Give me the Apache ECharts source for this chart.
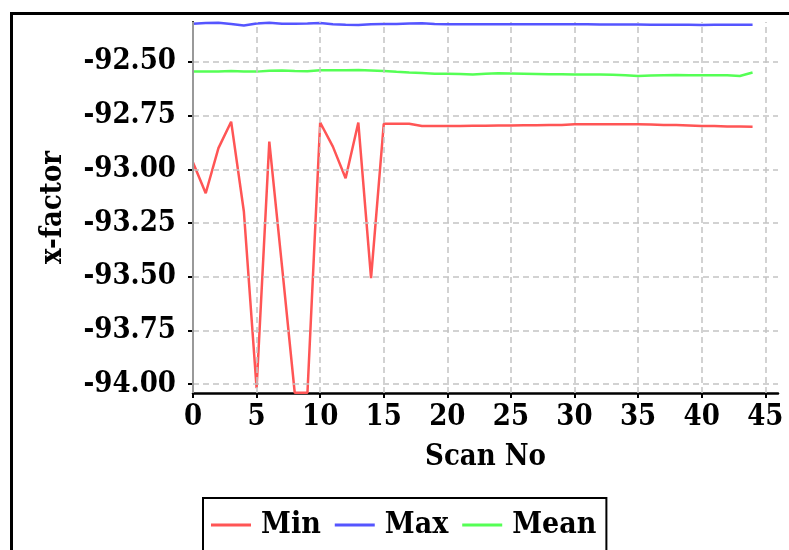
<!DOCTYPE html>
<html>
<head>
<meta charset="utf-8">
<script src="https://cdn.jsdelivr.net/npm/echarts@6/dist/echarts.min.js"></script>
<style>html,body{margin:0;padding:0;background:#fff}#c{width:789px;height:550px}</style>
</head>
<body>
<div id="c"></div>
<script>
const scanNo = [0,1,2,3,4,5,6,7,8,9,10,11,12,13,14,15,16,17,18,19,20,21,22,23,24,25,26,27,28,29,30,31,32,33,34,35,36,37,38,39,40,41,42,43,44];
const minVals = [-92.968,-93.111,-92.901,-92.778,-93.196,-94.018,-92.871,-93.452,-94.04,-94.04,-92.782,-92.894,-93.041,-92.782,-93.506,-92.788,-92.788,-92.788,-92.798,-92.798,-92.798,-92.798,-92.797,-92.797,-92.796,-92.796,-92.795,-92.795,-92.794,-92.793,-92.790,-92.790,-92.790,-92.790,-92.790,-92.790,-92.791,-92.793,-92.794,-92.796,-92.798,-92.798,-92.800,-92.801,-92.802];
const maxVals = [-92.322,-92.319,-92.318,-92.323,-92.330,-92.321,-92.317,-92.322,-92.322,-92.321,-92.319,-92.324,-92.327,-92.328,-92.325,-92.323,-92.323,-92.321,-92.320,-92.323,-92.324,-92.325,-92.325,-92.324,-92.324,-92.324,-92.325,-92.325,-92.325,-92.325,-92.325,-92.325,-92.326,-92.326,-92.326,-92.326,-92.327,-92.327,-92.327,-92.327,-92.328,-92.327,-92.327,-92.327,-92.327];
const meanVals = [-92.545,-92.545,-92.544,-92.542,-92.544,-92.545,-92.541,-92.540,-92.542,-92.543,-92.539,-92.539,-92.539,-92.538,-92.540,-92.542,-92.546,-92.549,-92.551,-92.555,-92.555,-92.556,-92.558,-92.555,-92.553,-92.554,-92.555,-92.556,-92.557,-92.557,-92.558,-92.558,-92.558,-92.560,-92.562,-92.565,-92.563,-92.562,-92.561,-92.562,-92.562,-92.562,-92.562,-92.565,-92.549];
const xTicks = [0,5,10,15,20,25,30,35,40,45];
const yTicks = [-94.00,-93.75,-93.50,-93.25,-93.00,-92.75,-92.50];
const seriesNames = ['Min','Max','Mean'];
const seriesColors = ['#ff5555','#5555ff','#55ff55'];

const FONT = '"DejaVu Serif Condensed", "DejaVu Serif", serif';
const chart = echarts.init(document.getElementById('c'), null, {renderer:'canvas'});
const pair = (ys) => scanNo.map((x,i)=>[x, ys[i]]);
const gridStyle = {color:'#c4c4c4', type:[6,4], width:1.5};

chart.setOption({
  animation:false,
  backgroundColor:'#fff',
  graphic:[{type:'rect', left:9, top:11, shape:{width:820, height:620}, style:{fill:'none', stroke:'#000', lineWidth:3}, silent:true, z:-1}],
  grid:{left:193, top:22, right:11, bottom:157, outerBoundsMode:'none', containLabel:false},
  legend:{
    data:seriesNames, left:203, top:498, orient:'horizontal',
    borderColor:'#000', borderWidth:2, padding:[12,10,14,8],
    icon:'rect', itemWidth:40, itemHeight:3, itemGap:14,
    textStyle:{fontFamily:FONT, fontWeight:'bold', fontSize:30, color:'#000', padding:[0,0,0,5]}
  },
  xAxis:{
    type:'value', min:0, max:46,
    name:'Scan No', nameLocation:'middle', nameGap:50,
    nameTextStyle:{fontFamily:FONT, fontWeight:'bold', fontSize:29, color:'#000'},
    axisLine:{onZero:false, lineStyle:{color:'#000', width:2.5}},
    axisTick:{customValues:xTicks, length:5, inside:false, lineStyle:{color:'#000', width:2}},
    axisLabel:{customValues:xTicks, fontFamily:FONT, fontWeight:'bold', fontSize:29, color:'#000', margin:10},
    splitLine:{show:false}
  },
  yAxis:{
    type:'value', min:-94.041, max:-92.314,
    name:'x-factor', nameLocation:'middle', nameGap:125, nameRotate:90,
    nameTextStyle:{fontFamily:FONT, fontWeight:'bold', fontSize:29, color:'#000'},
    axisLine:{onZero:false, lineStyle:{color:'#000', width:2, type:[5,3]}},
    axisTick:{customValues:yTicks, length:5, lineStyle:{color:'#000', width:2}},
    axisLabel:{customValues:yTicks, formatter:v=>v.toFixed(2), fontFamily:FONT, fontWeight:'bold', fontSize:29, color:'#000', margin:17},
    splitLine:{show:false}
  },
  series:[
    {name:'grid', type:'line', data:[], z:1, silent:true,
     markLine:{silent:true, symbol:'none', label:{show:false}, lineStyle:gridStyle, animation:false,
       data: xTicks.filter(v=>v>0).map(v=>({xAxis:v})).concat(yTicks.map(v=>({yAxis:v}))).concat([{xAxis:0, lineStyle:{color:'#999', type:'solid', width:2}}])}},
    {name:seriesNames[0], type:'line', data:pair(minVals), symbol:'none', z:3, lineStyle:{color:seriesColors[0], width:2.5}, itemStyle:{color:seriesColors[0]}},
    {name:seriesNames[1], type:'line', data:pair(maxVals), symbol:'none', z:3, lineStyle:{color:seriesColors[1], width:2.5}, itemStyle:{color:seriesColors[1]}},
    {name:seriesNames[2], type:'line', data:pair(meanVals), symbol:'none', z:3, lineStyle:{color:seriesColors[2], width:2.5}, itemStyle:{color:seriesColors[2]}}
  ]
});
</script>
</body>
</html>
